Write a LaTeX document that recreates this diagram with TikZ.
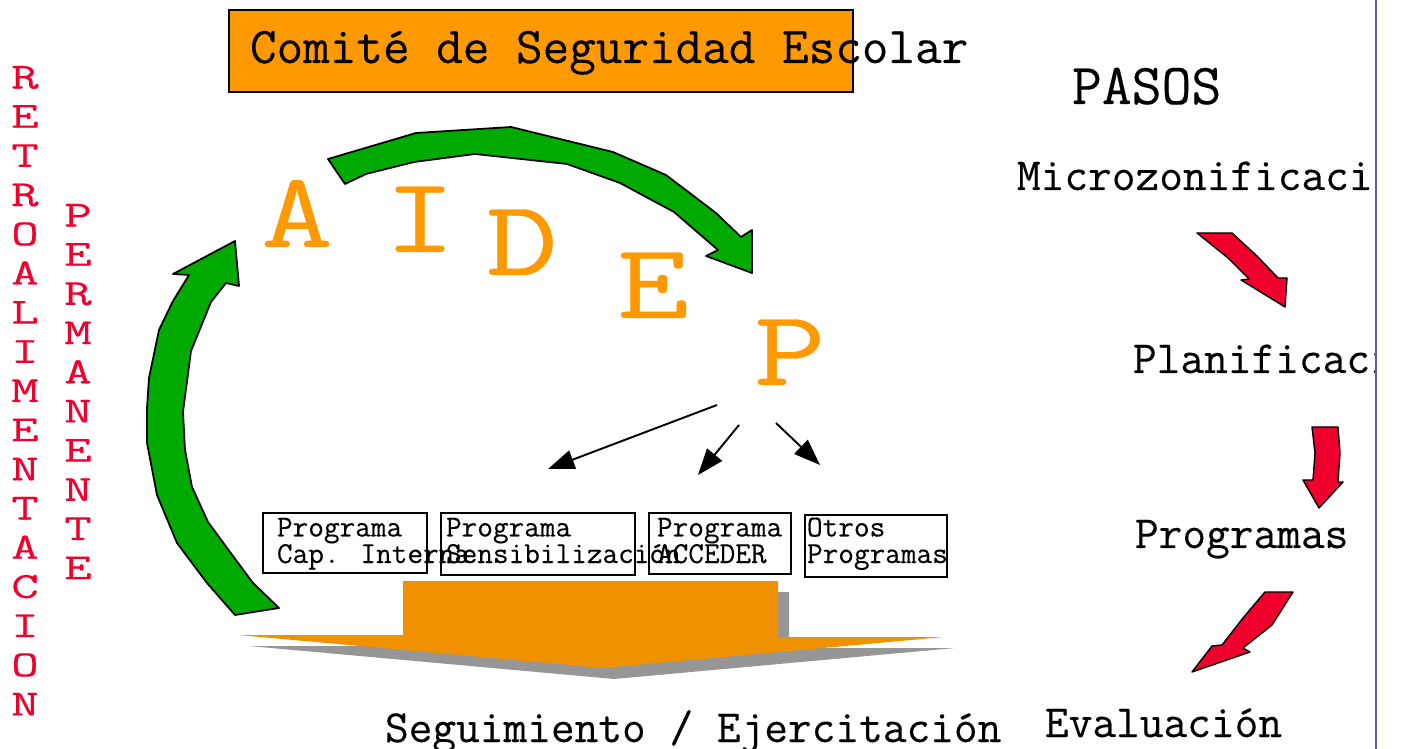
\documentclass[tikz,border=0pt]{standalone}
\usepackage{fontspec}
\setmainfont{Latin Modern Mono}[FakeBold=0.3]
\usetikzlibrary{arrows.meta}
\definecolor{naranja}{RGB}{255,153,0}
\definecolor{naranjaflecha}{RGB}{240,145,0}
\definecolor{verde}{RGB}{0,170,0}
\definecolor{rojo}{RGB}{240,0,45}
\definecolor{sombra}{RGB}{150,150,150}
\definecolor{lila}{RGB}{100,90,170}
\begin{document}
\begin{tikzpicture}[x=0.02cm, y=-0.02cm,
		every node/.style = {inner sep=0pt, outer sep=0pt, anchor=base west},
		titulo/.style = {font=\fontsize{29.4}{32}\selectfont},
		paso/.style = {font=\fontsize{26.2}{30}\selectfont},
		letra/.style = {text=naranja, anchor=base, xscale=1.3, font=\fontsize{61}{61}\selectfont},
		vertical/.style = {text=rojo, align=center, anchor=north, xscale=1.45,
			font=\fontsize{21}{22.3}\selectfont},
		caja/.style = {draw, line width=0.8pt, anchor=north west},
		programa/.style = {align=left, font=\fontsize{17.3}{15.1}\selectfont},
		flecha verde/.style = {fill=verde, draw=black, line width=1pt, line join=round},
		flecha roja/.style = {fill=rojo, draw=black, line width=0.8pt, line join=round},
		puntero/.style = {-{Triangle[length=15pt,width=11pt]}, line width=1.1pt}]
	\useasboundingbox (0,0) rectangle (1403,749);
	\node[caja, fill=naranja, minimum width=12.48cm, minimum height=1.64cm] (marco) at (229,10) {};
	\node[titulo] (comite) at (250,63) {Comité de Seguridad Escolar};
	\node[vertical] (retro) at (25,66) {R\\E\\T\\R\\O\\A\\L\\I\\M\\E\\N\\T\\A\\C\\I\\O\\N};
	\node[vertical] (perma) at (78,204) {P\\E\\R\\M\\A\\N\\E\\N\\T\\E};
	\draw[flecha verde] (328,159) -- (416,133) -- (511,127) -- (613,152) -- (666,175) -- (716,213)
		-- (741,237) -- (752,230) -- (752,273) -- (706,256) -- (718,250) -- (674,212) -- (620,183)
		-- (567,164) -- (475,154) -- (414,162) -- (366,174) -- (345,184) -- cycle;
	\draw[flecha verde] (235,241) -- (239,286) -- (226,283) -- (211,302) -- (191,351) -- (183,412)
		-- (185,450) -- (192,487) -- (208,522) -- (230,552) -- (253,583) -- (279,608) -- (235,615)
		-- (207,583) -- (177,543) -- (157,495) -- (147,443) -- (147,408) -- (149,378) -- (159,330)
		-- (173,301) -- (189,275) -- (173,274) -- cycle;
	\node[letra] (A) at (297,247) {A};
	\node[letra] (I) at (420,252) {I};
	\node[letra] (D) at (522,275) {D};
	\node[letra] (E) at (653,318) {E};
	\node[letra] (P) at (790,385) {P};
	\coordinate (desdeP1) at (717,405);
	\coordinate (desdeP2) at (739,425);
	\coordinate (desdeP3) at (776,423);
	\coordinate (haciaCap) at (548,469);
	\coordinate (haciaAcc) at (698,475);
	\coordinate (haciaOtr) at (820,465);
	\draw[puntero] (desdeP1) -- (haciaCap);
	\draw[puntero] (desdeP2) -- (haciaAcc);
	\draw[puntero] (desdeP3) -- (haciaOtr);
	\node[caja, minimum width=3.28cm, minimum height=1.2cm] (caja1) at (263,513) {};
	\node[caja, minimum width=3.88cm, minimum height=1.24cm] (caja2) at (441,513) {};
	\node[caja, minimum width=2.84cm, minimum height=1.22cm] (caja3) at (649,513) {};
	\node[caja, minimum width=2.84cm, minimum height=1.24cm] (caja4) at (805,515) {};
	\node[programa] (cap) at (277,563) {Programa\\Cap. Interna};
	\node[programa] (sens) at (446,563) {Programa\\Sensibilización};
	\node[programa] (acc) at (657,563) {Programa\\ACCEDER};
	\node[programa] (otros) at (807,563) {Otros\\Programas};
	\fill[sombra, shift={(11,11)}] (403,581) -- (778,581) -- (778,637) -- (944,637) -- (603,668)
		-- (238,635) -- (403,635) -- cycle;
	\fill[naranjaflecha] (403,581) -- (778,581) -- (778,637) -- (944,637) -- (603,668)
		-- (238,635) -- (403,635) -- cycle;
	\node[paso] (seguim) at (385,742) {Seguimiento / Ejercitación};
	\node[paso, font=\fontsize{33}{36}\selectfont] (pasos) at (1072,104) {PASOS};
	\begin{scope}
		\clip (0,0) rectangle (1376,749);
		\node[paso] (micro) at (1017,190) {Microzonificación};
		\node[paso] (plani) at (1133,373) {Planificación};
	\end{scope}
	\node[paso] (progs) at (1135,548) {Programas};
	\node[paso] (evalu) at (1045,737) {Evaluación};
	\draw[flecha roja] (1197,233) -- (1232,233) -- (1257,256) -- (1278,278) -- (1287,278)
		-- (1285,307) -- (1241,280) -- (1249,279) -- (1228,258) -- cycle;
	\draw[flecha roja] (1312,427) -- (1338,427) -- (1340,453) -- (1338,482) -- (1343,482)
		-- (1319,508) -- (1303,480) -- (1313,480) -- (1315,453) -- cycle;
	\draw[flecha roja] (1265,592) -- (1293,592) -- (1272,625) -- (1243,648) -- (1250,652)
		-- (1192,672) -- (1212,646) -- (1222,645) -- (1243,618) -- cycle;
	\draw[lila, line width=1.2pt] (1376,0) -- (1376,749);
\end{tikzpicture}
\end{document}
